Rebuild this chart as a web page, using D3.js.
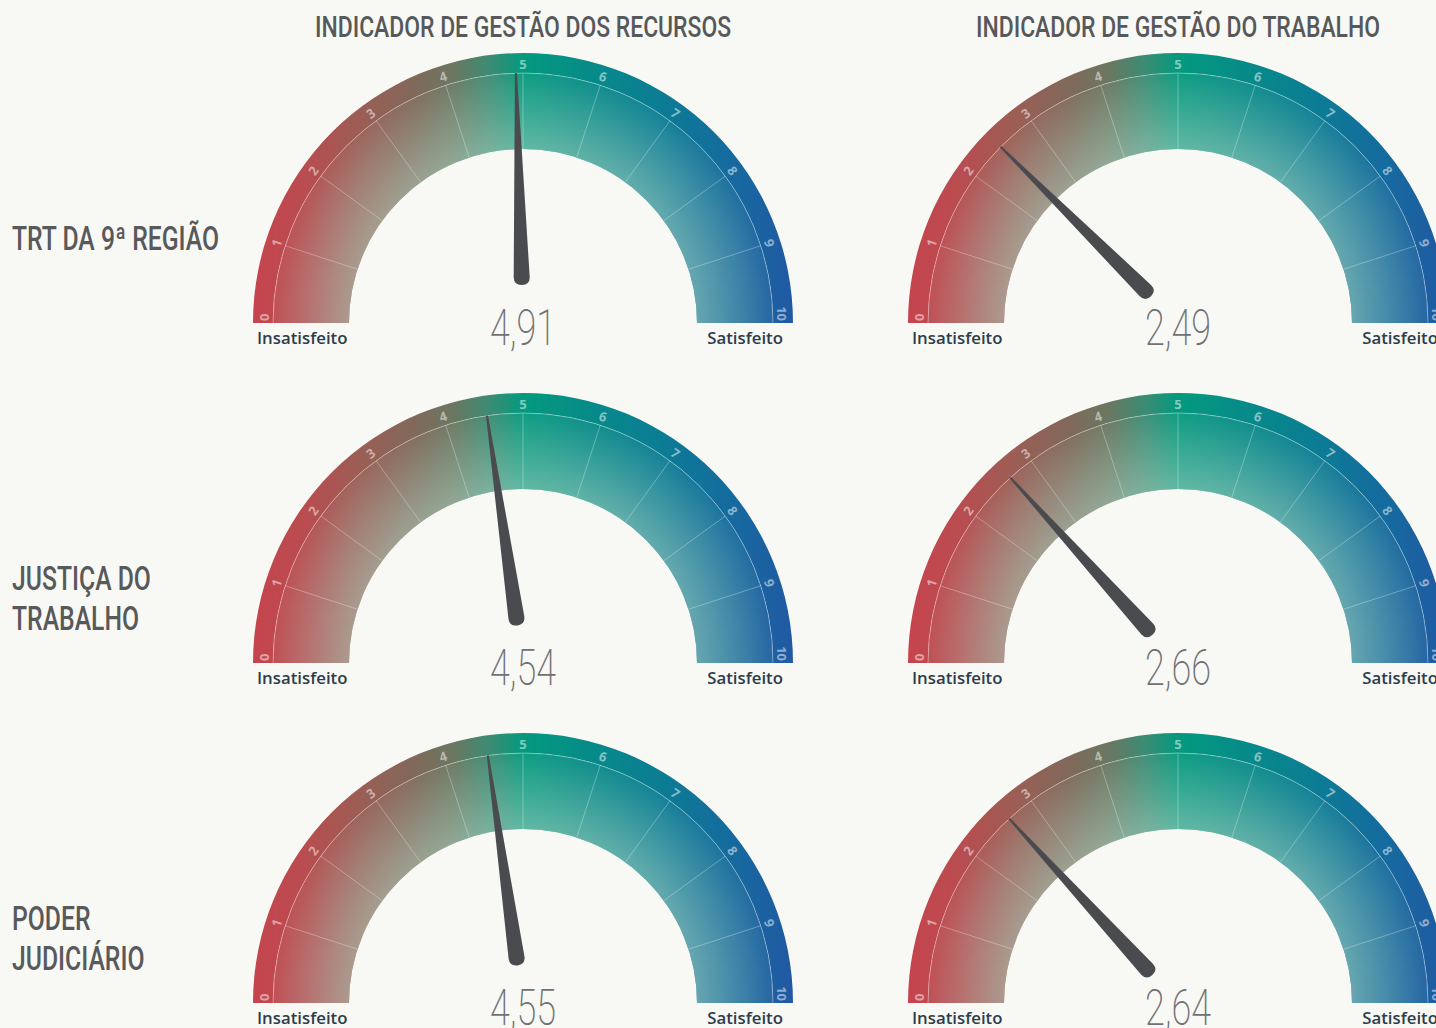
<!DOCTYPE html>
<html>
<head>
<meta charset="utf-8">
<script src="https://cdn.jsdelivr.net/npm/d3@7"></script>
<style>
  body { margin: 0; background: #f8f8f5; }
  svg { display: block; }
</style>
</head>
<body>
<svg width="1436" height="1028"></svg>
<script>
// dados
var indicators = ["INDICADOR DE GESTÃO DOS RECURSOS", "INDICADOR DE GESTÃO DO TRABALHO"];
var categories = [["TRT DA 9ª REGIÃO"], ["JUSTIÇA DO", "TRABALHO"], ["PODER", "JUDICIÁRIO"]];
var recursos = [4.91, 4.54, 4.55];
var trabalho = [2.49, 2.66, 2.64];
var tickValues = [0, 1, 2, 3, 4, 5, 6, 7, 8, 9, 10];
var minLabel = "Insatisfeito", maxLabel = "Satisfeito";

var series = [recursos, trabalho];

var svg = d3.select("svg"),
    defs = svg.append("defs");

var outerR = 270, ringR = 250, innerR = 174;

// posicoes das colunas e linhas
var colX = d3.scalePoint().domain(indicators).range([523, 1178]);
var rowY = d3.scalePoint().domain(d3.range(categories.length)).range([323, 1003]);

// escala do ponteiro: 0..10 -> -90..90 graus
var angle = d3.scaleLinear().domain([0, 10]).range([-Math.PI / 2, Math.PI / 2]);
var deg = function (v) { return angle(v) * 180 / Math.PI; };

var fmt = d3.formatLocale({ decimal: ",", thousands: ".", grouping: [3], currency: ["R$", ""] }).format(".2f");

// gradiente horizontal das faixas
var band = defs.append("linearGradient")
    .attr("id", "band")
    .attr("gradientUnits", "userSpaceOnUse")
    .attr("x1", -outerR).attr("x2", outerR)
    .attr("y1", 0).attr("y2", 0);
[[0, "#c6444d"], [0.1, "#b84d50"], [0.2, "#9b5e55"], [0.3, "#80695a"], [0.37, "#6b7761"],
 [0.44, "#3a8c74"], [0.5, "#049a7e"], [0.62, "#068b88"], [0.75, "#0b7d94"], [0.88, "#156b9e"], [1, "#2159a3"]]
    .forEach(function (s) {
        band.append("stop").attr("offset", s[0]).attr("stop-color", s[1]);
    });

// clareamento radial da faixa interna
var glow = defs.append("radialGradient")
    .attr("id", "glow")
    .attr("gradientUnits", "userSpaceOnUse")
    .attr("cx", 0).attr("cy", 0).attr("r", ringR);
glow.append("stop").attr("offset", innerR / ringR).attr("stop-color", "#b4d4c4").attr("stop-opacity", 0.52);
glow.append("stop").attr("offset", 1).attr("stop-color", "#b4d4c4").attr("stop-opacity", 0.06);

// titulos das colunas
svg.selectAll(".title")
    .data(indicators)
    .enter().append("text")
    .attr("class", "title")
    .attr("transform", function (d) { return "translate(" + colX(d) + ",37) scale(0.79,1)"; })
    .attr("text-anchor", "middle")
    .style("font-family", "Roboto, sans-serif")
    .style("font-weight", 500)
    .style("font-size", "29px")
    .style("fill", "#57585a")
    .text(function (d) { return d; });

// rotulos das linhas
categories.forEach(function (lines, i) {
    var t = svg.append("text")
        .attr("transform", "translate(12," + (rowY(i) - 73) + ") scale(0.75,1)")
        .style("font-family", "Roboto, sans-serif")
        .style("font-weight", 500)
        .style("font-size", "33px")
        .style("fill", "#58595b");
    lines.forEach(function (l, j) {
        t.append("tspan").attr("x", 0).attr("y", j * 40).text(l);
    });
});

var arc = d3.arc();

indicators.forEach(function (ind, c) {
    series[c].forEach(function (value, r) {
        var g = svg.append("g")
            .attr("transform", "translate(" + colX(ind) + "," + rowY(r) + ")");

        // faixa externa (numeros)
        g.append("path")
            .attr("d", arc({ innerRadius: ringR, outerRadius: outerR, startAngle: angle(0), endAngle: angle(10) }))
            .attr("fill", "url(#band)");

        // faixa interna
        var inner = arc({ innerRadius: innerR, outerRadius: ringR, startAngle: angle(0), endAngle: angle(10) });
        g.append("path").attr("d", inner).attr("fill", "url(#band)");
        g.append("path").attr("d", inner).attr("fill", "url(#glow)");

        // linha circular
        var p = d3.path();
        p.arc(0, 0, ringR, Math.PI, 2 * Math.PI);
        g.append("path")
            .attr("d", p.toString())
            .attr("fill", "none")
            .attr("stroke", "#fff")
            .attr("stroke-opacity", 0.35)
            .attr("stroke-width", 1);

        // divisoes
        g.selectAll(".div")
            .data(tickValues.slice(1, -1))
            .enter().append("line")
            .attr("x1", function (d) { return innerR * Math.sin(angle(d)); })
            .attr("y1", function (d) { return -innerR * Math.cos(angle(d)); })
            .attr("x2", function (d) { return ringR * Math.sin(angle(d)); })
            .attr("y2", function (d) { return -ringR * Math.cos(angle(d)); })
            .attr("stroke", "#fff")
            .attr("stroke-opacity", 0.3)
            .attr("stroke-width", 1);

        // numeros da escala
        g.selectAll(".tick")
            .data(tickValues)
            .enter().append("text")
            .attr("transform", function (d) {
                return "rotate(" + deg(d) + ") translate(0," + (-259) + ")";
            })
            .attr("dx", function (d) { return d === 0 ? 2 : d === 10 ? -2 : 0; })
            .attr("text-anchor", function (d) { return d === 0 ? "start" : d === 10 ? "end" : "middle"; })
            .attr("dy", "0.36em")
            .style("font-family", "'Open Sans', sans-serif")
            .style("font-weight", 700)
            .style("font-size", "13px")
            .style("fill", "#fff")
            .style("fill-opacity", 0.5)
            .text(function (d) { return d; });

        // ponteiro
        g.append("path")
            .attr("d", "M-1,-250 L1,-250 L8,-46 Q8,-38 0,-38 Q-8,-38 -8,-46 Z")
            .attr("transform", "rotate(" + deg(value) + ")")
            .attr("fill", "#4a4b4f");

        // valor
        g.append("text")
            .attr("transform", "translate(0,22) scale(0.72,1)")
            .attr("text-anchor", "middle")
            .style("font-family", "Roboto, sans-serif")
            .style("font-weight", 200)
            .style("font-size", "50px")
            .style("fill", "#707174")
            .text(fmt(value));

        // extremos
        g.append("text")
            .attr("x", -266).attr("y", 21)
            .style("font-family", "'Open Sans', sans-serif")
            .style("font-weight", 600)
            .style("font-size", "16.8px")
            .style("fill", "#2d3d4a")
            .text(minLabel);
        g.append("text")
            .attr("x", 260).attr("y", 21)
            .attr("text-anchor", "end")
            .style("font-family", "'Open Sans', sans-serif")
            .style("font-weight", 600)
            .style("font-size", "16.8px")
            .style("fill", "#2d3d4a")
            .text(maxLabel);
    });
});
</script>
</body>
</html>
